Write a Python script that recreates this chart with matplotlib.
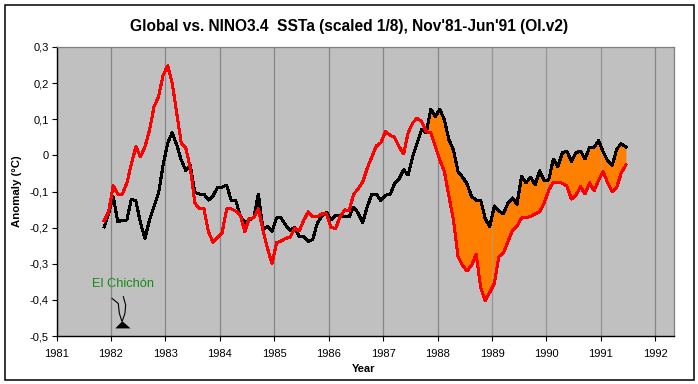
#Global vs NINO3.4 SSTa
import numpy as np
from matplotlib import pyplot as plt
from matplotlib.patches import Rectangle, Polygon
plt.rc('font',family=['Liberation Sans','DejaVu Sans'])
plt.rc('font',size=8)

#monthly values Nov'81 - Jun'91
nino34=[-0.181,-0.156,-0.084,-0.107,-0.107,-0.077,-0.024,0.024,-0.004,0.024,
0.070,0.135,0.163,0.222,0.248,0.200,0.117,0.034,0.020,-0.035,
-0.132,-0.148,-0.148,-0.212,-0.240,-0.226,-0.214,-0.148,-0.148,-0.154,
-0.165,-0.211,-0.174,-0.173,-0.148,-0.207,-0.257,-0.300,-0.242,-0.237,
-0.230,-0.226,-0.202,-0.209,-0.179,-0.156,-0.170,-0.170,-0.162,-0.162,
-0.199,-0.203,-0.170,-0.151,-0.153,-0.107,-0.093,-0.073,-0.035,-0.004,
0.026,0.035,0.066,0.056,0.050,0.024,0.004,0.062,0.090,0.103,
0.093,0.066,0.062,0.024,-0.013,-0.045,-0.114,-0.179,-0.280,-0.305,
-0.320,-0.304,-0.273,-0.367,-0.402,-0.379,-0.354,-0.280,-0.270,-0.239,
-0.207,-0.196,-0.173,-0.173,-0.169,-0.162,-0.156,-0.132,-0.096,-0.074,
-0.074,-0.077,-0.085,-0.121,-0.110,-0.087,-0.107,-0.076,-0.098,-0.068,
-0.045,-0.077,-0.101,-0.087,-0.048,-0.026]
global_sst=[-0.198,-0.160,-0.114,-0.184,-0.179,-0.179,-0.121,-0.126,-0.187,-0.229,
-0.179,-0.142,-0.104,-0.027,0.034,0.063,0.029,-0.013,-0.042,-0.027,
-0.103,-0.107,-0.107,-0.124,-0.112,-0.089,-0.088,-0.082,-0.124,-0.124,
-0.168,-0.187,-0.179,-0.171,-0.107,-0.204,-0.197,-0.211,-0.173,-0.173,
-0.193,-0.207,-0.199,-0.225,-0.225,-0.239,-0.232,-0.187,-0.168,-0.157,
-0.179,-0.165,-0.168,-0.170,-0.170,-0.143,-0.160,-0.186,-0.142,-0.107,
-0.107,-0.125,-0.110,-0.109,-0.079,-0.065,-0.040,-0.054,-0.004,0.034,
0.073,0.062,0.128,0.107,0.128,0.098,0.043,0.015,-0.045,-0.060,
-0.079,-0.114,-0.124,-0.124,-0.176,-0.197,-0.140,-0.154,-0.162,-0.132,
-0.118,-0.135,-0.059,-0.076,-0.060,-0.081,-0.043,-0.070,-0.068,-0.010,
-0.031,0.007,0.012,-0.017,0.007,0.012,-0.010,0.023,0.023,0.041,
0.010,-0.016,-0.027,0.018,0.032,0.023]
years=list(range(1981,1993))
yticks=[0.3,0.2,0.1,0,-0.1,-0.2,-0.3,-0.4,-0.5]
ylabels=["0,3","0,2","0,1","0","-0,1","-0,2","-0,3","-0,4","-0,5"]

t=1981+10.5/12+np.arange(len(nino34))/12
nino34=np.array(nino34)
global_sst=np.array(global_sst)

W,H=698,384
fig=plt.figure(figsize=(W/100,H/100),dpi=100)
ax=fig.add_axes([56.5/W,1-336/H,617/W,289/H])
ax.set_facecolor("#c0c0c0")
ax.set_xlim(1981,1992.333)
ax.set_ylim(-0.5,0.3)

ax.set_xticks(years)
ax.set_yticks(yticks,labels=ylabels)
ax.tick_params(axis='both',length=3.5,width=0.8,color='black',labelsize=8,pad=6)
ax.tick_params(axis='y',pad=2)
ax.xaxis.grid(True,color="#868686",lw=0.9,zorder=1)
ax.set_axisbelow(True)
for s in ['top','right']:
    ax.spines[s].set_color("#808080")
    ax.spines[s].set_linewidth(0.9)
for s in ['left','bottom']:
    ax.spines[s].set_color("black")
    ax.spines[s].set_linewidth(1.0)

#orange only after the 1987 crossing
n0=71
ax.fill_between(t[n0:],nino34[n0:],global_sst[n0:],where=global_sst[n0:]>=nino34[n0:],
                interpolate=True,color="#ff8000",lw=0,zorder=2)
ax.vlines([1989,1990,1991],-0.5,0.3,color="#a0a0a0",lw=0.5,zorder=2.5)
ax.plot(t,global_sst,color="black",lw=1.45,antialiased=False,zorder=3)
ax.plot(t,nino34,color="#ff0000",lw=1.45,antialiased=False,zorder=4)

#volcano
ax.add_patch(Polygon([(1982.08,-0.479),(1982.36,-0.479),(1982.21,-0.459)],color="black",lw=0,zorder=5))
ax.plot([1982.02,1982.135,1982.154,1982.198],[-0.396,-0.41,-0.437,-0.458],color="black",lw=0.8,zorder=5)
ax.plot([1982.227,1982.27,1982.258,1982.209],[-0.391,-0.414,-0.437,-0.458],color="black",lw=0.8,zorder=5)
ax.text(1982.22,-0.3555,"El Chichón",color="#148c14",fontsize=9.3,ha='center',va='center',zorder=5)

fig.text(349/W,1-26/H,"Global vs. NINO3.4  SSTa (scaled 1/8), Nov'81-Jun'91 (OI.v2)",
         fontsize=11.2,fontweight='bold',ha='center',va='center')
fig.text(364/W,1-369/H,"Year",fontsize=8,fontweight='bold',ha='center',va='center')
fig.text(17/W,1-191/H,"Anomaly (°C)",fontsize=8.2,fontweight='bold',rotation=90,ha='center',va='center')

#outer frame
fig.add_artist(Rectangle((4.5/W,1-380/H),689/W,375.5/H,transform=fig.transFigure,fill=False,ec='black',lw=1.1))
fig.savefig("out.png",dpi=100)
